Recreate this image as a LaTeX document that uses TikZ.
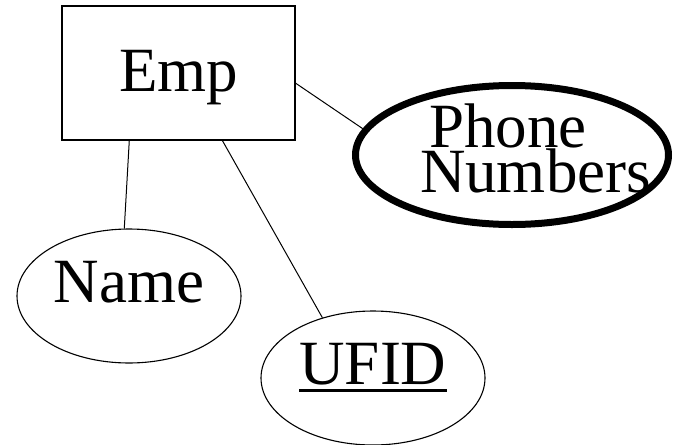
\documentclass[tikz,border=0pt]{standalone}
\usepackage{fontspec}
\setmainfont{Liberation Serif}
\usetikzlibrary{shapes.geometric}
\newcommand{\pkey}[1]{\setbox0\hbox{#1}\rlap{\rule[-8pt]{\wd0}{3pt}}\box0}

\begin{document}
\begin{tikzpicture}[
    x=1pt, y=-1pt,
    every node/.style={font=\fontsize{63}{45}\selectfont, inner sep=0pt},
    entity/.style={rectangle,draw,line width=1.5pt,minimum width=233pt,minimum height=134pt,text height=44pt,text depth=8pt},
    attr/.style={ellipse,draw,line width=1.1pt,minimum width=224pt,minimum height=134pt,text height=42pt,text depth=30pt},
    multi/.style={attr,line width=7pt,minimum width=313pt,minimum height=139pt}
  ]
    \useasboundingbox (0,0) rectangle (673,445);

    % Entity
    \node[entity] (emp) at (178.5,73) {Emp};

    % Attributes
    \node[multi,text width=184pt,align=left,text height=40pt,text depth=56pt] (phone) at (512,155) {\hspace*{9pt}Phone\\Numbers};
    \node[attr] (name) at (129,296) {Name};
    \node[attr] (ufid) at (373,378) {\pkey{UFID}};

    % Connections
    \draw[line width=1pt] (emp.-5) -- (phone.170);
    \draw[line width=1pt] (emp.234) -- (name.94);
    \draw[line width=1pt] (emp.-57) -- (ufid.130);
  \end{tikzpicture}
\end{document}
